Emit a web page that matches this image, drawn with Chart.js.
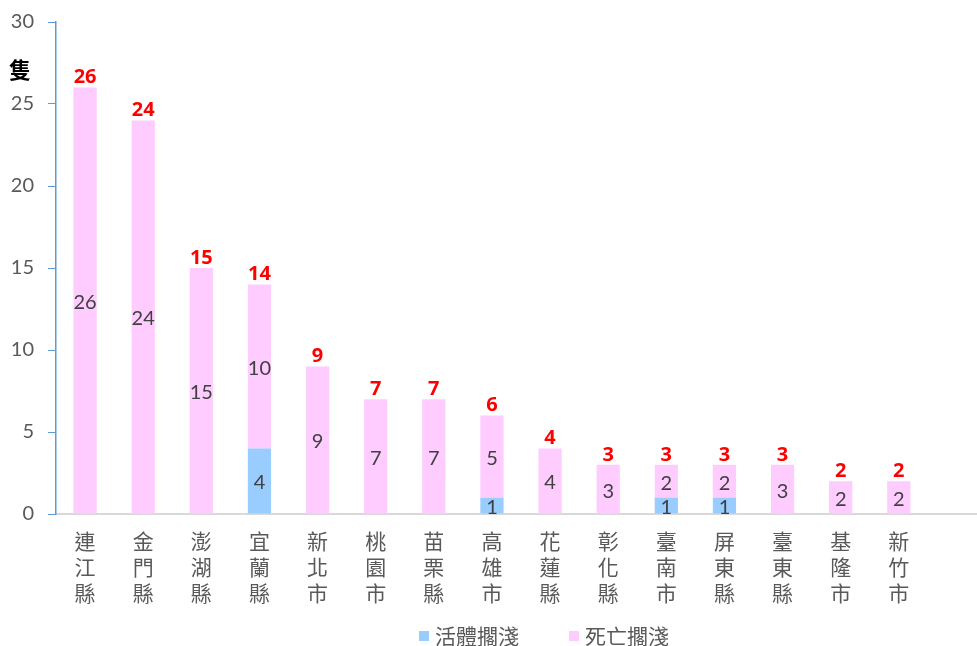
<!DOCTYPE html>
<html><head><meta charset="utf-8">
<script src="https://cdn.jsdelivr.net/npm/chart.js@4/dist/chart.umd.min.js"></script>
<style>html,body{margin:0;padding:0;background:#fff;overflow:hidden}#wrap{width:977px;height:646px;overflow:hidden}#c{display:block;margin-top:-4px}</style>
</head><body><div id="wrap"><canvas id="c" width="986" height="650"></canvas></div>
<script>
const categories = ['連江縣','金門縣','澎湖縣','宜蘭縣','新北市','桃園市','苗栗縣','高雄市','花蓮縣','彰化縣','臺南市','屏東縣','臺東縣','基隆市','新竹市',''];
const aliveValues = [0,0,0,4,0,0,0,1,0,0,1,1,0,0,0];
const deadValues  = [26,24,15,10,9,7,7,5,4,3,2,2,3,2,2];
const yTicks = [0,5,10,15,20,25,30];
const seriesNames = ['活體擱淺','死亡擱淺'];
const unitLabel = '隻';

const labelPlugin = {
  id:'labels',
  afterDatasetsDraw(chart){
    const ctx = chart.ctx;
    ctx.save();
    ctx.textAlign='center'; ctx.textBaseline='middle';
    chart.data.datasets.forEach((ds,di)=>{
      const meta = chart.getDatasetMeta(di);
      meta.data.forEach((el,i)=>{
        const v = ds.data[i];
        if(!v) return;
        ctx.font = '20px Lato, "Noto Sans", sans-serif';
        ctx.fillStyle = '#404040';
        ctx.fillText(String(v), el.x, (el.y+el.base)/2+2);
      });
    });
    const top = chart.getDatasetMeta(1);
    top.data.forEach((el,i)=>{
      if(i>=deadValues.length) return;
      const t = aliveValues[i]+deadValues[i];
      ctx.font = 'bold 20px "Open Sans", Lato, sans-serif';
      ctx.fillStyle = '#FF0000';
      ctx.fillText(String(t), el.x, el.y-10);
    });
    const ya = chart.scales.y;
    ctx.font = 'bold 22px "Noto Sans CJK TC", sans-serif';
    ctx.fillStyle = '#000000';
    ctx.fillText(unitLabel, 20, ya.getPixelForValue(27.1));

    ctx.font = '21px "Noto Sans CJK TC", sans-serif';
    ctx.textAlign = 'left';
    const items = chart.data.datasets.map(d=>({text:d.label, color:d.backgroundColor, w:ctx.measureText(d.label).width}));
    const box = 10, gap = 6, sep = 50;
    let total = items.reduce((a,it)=>a+box+gap+it.w,0) + sep*(items.length-1);
    let x = 544 - total/2;
    const y = chart.height - 10;
    items.forEach(it=>{
      ctx.fillStyle = it.color;
      ctx.fillRect(x, y-5, box, box);
      ctx.fillStyle = '#595959';
      ctx.fillText(it.text, x+box+gap, y);
      x += box+gap+it.w+sep;
    });
    ctx.restore();
  }
};

new Chart(document.getElementById('c'), {
  type:'bar',
  data:{
    labels: categories.map(c=>c.split('')),
    datasets:[
      {label:seriesNames[0], data:aliveValues, backgroundColor:'#99CCFF', barPercentage:0.4, categoryPercentage:1},
      {label:seriesNames[1], data:deadValues, backgroundColor:'#FFCCFF', barPercentage:0.4, categoryPercentage:1}
    ]
  },
  options:{
    responsive:false, animation:false,
    layout:{padding:{top:0,right:0,left:0,bottom:40}},
    plugins:{
      legend:{display:false},
      tooltip:{enabled:false}
    },
    scales:{
      x:{stacked:true, grid:{display:false}, border:{color:'#D9D9D9', width:2},
         afterFit(s){ s.height = 92; },
         ticks:{color:'#595959', font:{size:21, family:'"Noto Sans CJK TC", sans-serif', lineHeight:1.24}, maxRotation:0, autoSkip:false, padding:6}},
      y:{stacked:true, min:0, max:30,
         afterFit(s){ s.width = 56; },
         afterBuildTicks(s){ s.ticks = yTicks.map(v=>({value:v})); },
         grid:{drawOnChartArea:false, tickLength:8, tickColor:'#5B9BD5'},
         border:{color:'#5B9BD5', width:1.5},
         ticks:{color:'#595959', padding:14, font:{size:20, family:'Lato, "Noto Sans", sans-serif'}}}
    }
  },
  plugins:[labelPlugin]
});
</script></body></html>
